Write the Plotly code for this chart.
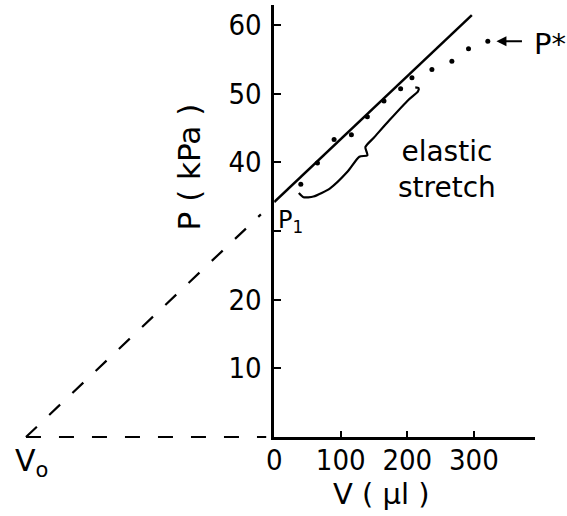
import plotly.graph_objects as go

# ---------------- data ----------------
V_points = [40, 65, 90, 116, 140, 165, 190, 207, 237, 267, 292, 321]
P_points = [36.8, 39.9, 43.3, 44.0, 46.6, 48.9, 50.7, 52.3, 53.5, 54.7, 56.5, 57.6]

fit_V = [0, 297]
fit_P = [34.2, 61.4]

V0 = -373
extrap_V = [V0, -20]
extrap_P = [0, 32.4]
base_V = [V0, -12]
base_P = [0, 0]

brace_V = [37, 44, 59, 84, 110, 128, 140, 137, 150, 173, 202, 216, 217, 212]
brace_P = [35.5, 34.9, 35.0, 36.2, 38.6, 40.8, 41.0, 42.2, 43.6, 46.1, 49.1, 50.3, 50.8, 50.9]

x_ticks = [0, 100, 200, 300]
y_ticks = [10, 20, 30, 40, 50, 60]
y_ticktext = ["10", "20", "", "40", "50", "60"]

# ---------------- geometry ----------------
W, H = 567, 516
OX, OY = 270, 437          # pixel position of the origin
KX, KY = 0.675, 6.87       # pixels per µl, pixels per kPa
X_END, Y_TOP = 535, 5

def px(x):
    return x / W

def py(y):
    return 1 - y / H

TICK_FONT = dict(family="Liberation Sans Narrow, DejaVu Sans Condensed, sans-serif", size=29, color="black")
TXT_FONT = dict(family="DejaVu Sans, sans-serif", color="black")

fig = go.Figure()

# dashed extrapolation (full-figure axes)
fig.add_trace(go.Scatter(x=extrap_V, y=extrap_P, mode="lines", xaxis="x2", yaxis="y2",
                         line=dict(color="black", width=2.2, dash="15px,17px"), hoverinfo="skip"))
fig.add_trace(go.Scatter(x=base_V, y=base_P, mode="lines", xaxis="x2", yaxis="y2",
                         line=dict(color="black", width=2.2, dash="15px,18px"), hoverinfo="skip"))

# fitted line and data points
fig.add_trace(go.Scatter(x=fit_V, y=fit_P, mode="lines",
                         line=dict(color="black", width=2.5), hoverinfo="skip"))
fig.add_trace(go.Scatter(x=V_points, y=P_points, mode="markers",
                         marker=dict(color="black", size=5), hoverinfo="skip"))
# brace
fig.add_trace(go.Scatter(x=brace_V, y=brace_P, mode="lines",
                         line=dict(color="black", width=2.2, shape="spline", smoothing=0.6),
                         hoverinfo="skip"))

fig.update_layout(
    width=W, height=H, margin=dict(l=0, r=0, t=0, b=0),
    paper_bgcolor="white", plot_bgcolor="rgba(0,0,0,0)",
    showlegend=False,
    xaxis=dict(domain=[px(OX), px(X_END)], range=[0, (X_END - OX) / KX], anchor="y",
               showline=True, linecolor="black", linewidth=2.5, showgrid=False, zeroline=False,
               ticks="inside", ticklen=6, tickwidth=2, tickcolor="black",
               tickvals=x_ticks, ticktext=[str(t) for t in x_ticks], tickfont=TICK_FONT,
               ticklabelstandoff=-5, fixedrange=True),
    yaxis=dict(domain=[py(OY), py(Y_TOP)], range=[0, (OY - Y_TOP) / KY], anchor="x",
               showline=True, linecolor="black", linewidth=2.5, showgrid=False, zeroline=False,
               ticks="inside", ticklen=7, tickwidth=2, tickcolor="black",
               tickvals=y_ticks, ticktext=y_ticktext, tickfont=TICK_FONT,
               ticklabelstandoff=4, fixedrange=True),
    xaxis2=dict(domain=[0, 1], range=[-OX / KX, (W - OX) / KX], anchor="y2", visible=False),
    yaxis2=dict(domain=[0, 1], range=[-(H - OY) / KY, OY / KY], anchor="x2", visible=False),
)

ann = [
    dict(text="P ( kPa )", x=px(184), y=py(167), textangle=-90, font=dict(TXT_FONT, size=31)),
    dict(text="V ( µl )", x=px(379), y=py(494), font=dict(TXT_FONT, size=29)),
    dict(text="elastic<br>stretch", x=px(445), y=py(169), font=dict(TXT_FONT, size=28)),
    dict(text="P<sub>1</sub>", x=px(272), y=py(221), xanchor="left", font=dict(TXT_FONT, size=24)),
    dict(text="V<sub>o</sub>", x=px(5), y=py(462), xanchor="left", font=dict(TXT_FONT, size=30)),
    dict(text="P*", x=px(532), y=py(44), xanchor="left", font=dict(TXT_FONT, size=29)),
]
for a in ann:
    a.setdefault("xanchor", "center")
    a.update(xref="paper", yref="paper", yanchor="middle", showarrow=False)
    fig.add_annotation(**a)

# arrow pointing at P*
fig.add_annotation(x=V_points[-1] + 13, y=P_points[-1], xref="x", yref="y", text="",
                   showarrow=True, arrowhead=2, arrowsize=1, arrowwidth=2, arrowcolor="black",
                   ax=27, ay=0, axref="pixel", ayref="pixel")

fig.write_html("out.html")
